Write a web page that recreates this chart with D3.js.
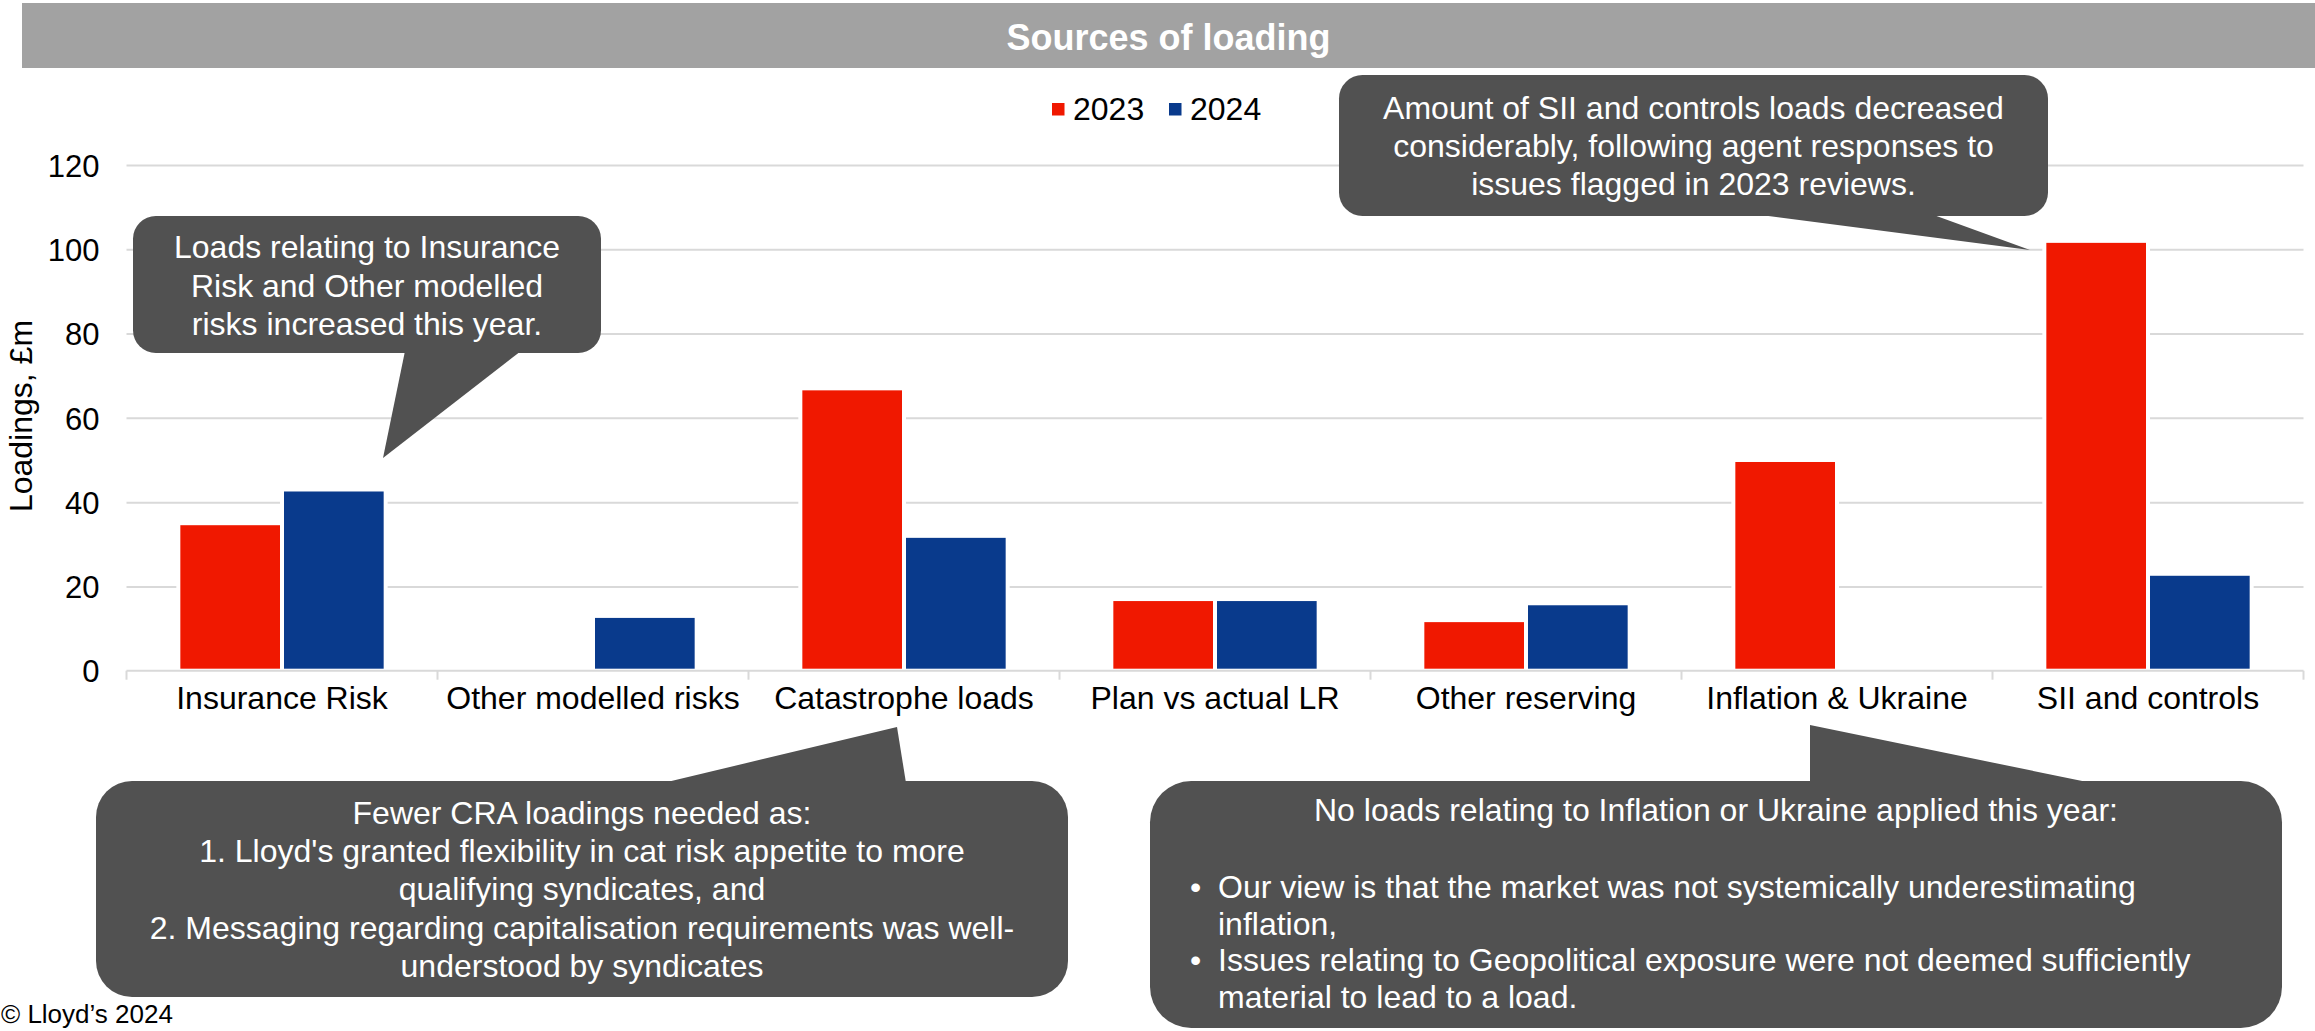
<!DOCTYPE html>
<html>
<head>
<meta charset="utf-8">
<script src="https://cdn.jsdelivr.net/npm/d3@7"></script>
<style>
  html, body { margin: 0; padding: 0; background: #ffffff; }
  svg { display: block; }
  text { font-family: "Liberation Sans", Arial, Helvetica, sans-serif; }
</style>
</head>
<body>
<svg id="chart" width="2315" height="1031"></svg>
<script>
// Loadings by source, £m
const categories = ["Insurance Risk", "Other modelled risks", "Catastrophe loads",
  "Plan vs actual LR", "Other reserving", "Inflation & Ukraine", "SII and controls"];
const seriesNames = ["2023", "2024"];
const values2023 = [35, 0.4, 67, 17, 12, 50, 102];
const values2024 = [43, 13, 32, 17, 16, 0, 23];
const yTicks = [0, 20, 40, 60, 80, 100, 120];

const seriesColors = { "2023": "#F01800", "2024": "#093A8C" };
const calloutFill = "#515151";
const gridColor = "#D9D9D9";
const fontFamily = '"Liberation Sans", Arial, Helvetica, sans-serif';

const svg = d3.select("#chart");
const W = 2315, H = 1031;

// Plot frame
const plot = { left: 126.5, right: 2303.5, top: 165, bottom: 670.7 };

const x = d3.scaleBand().domain(categories).range([plot.left, plot.right]).paddingInner(0).paddingOuter(0);
const xs = d3.scaleBand().domain(seriesNames).range([0, x.bandwidth()]).paddingInner(0).paddingOuter(0.5);
const y = d3.scaleLinear().domain([0, 120]).range([plot.bottom, plot.top]);

// Title banner
svg.append("rect").attr("x", 22).attr("y", 3).attr("width", W - 22).attr("height", 65).attr("fill", "#A2A2A2");
svg.append("text").attr("x", (22 + W) / 2).attr("y", 50)
  .attr("text-anchor", "middle").attr("fill", "#ffffff")
  .attr("font-size", 36).attr("font-weight", "bold")
  .text("Sources of loading");

// Horizontal gridlines
const grid = svg.append("g").attr("transform", `translate(${plot.left},0)`)
  .call(d3.axisLeft(y).tickValues(yTicks.filter(d => d > 0)).tickSize(-(plot.right - plot.left)).tickFormat(""));
grid.select(".domain").remove();
grid.selectAll(".tick line").attr("stroke", gridColor).attr("stroke-width", 2);

// Y tick labels
const yAxis = svg.append("g").attr("transform", `translate(${plot.left - 27},0)`)
  .call(d3.axisLeft(y).tickValues(yTicks).tickSize(0).tickPadding(0));
yAxis.select(".domain").remove();
yAxis.selectAll(".tick text").attr("font-size", 31).attr("font-family", fontFamily).attr("fill", "#000").attr("dy", "0.36em");

// Y axis title
svg.append("text").attr("transform", "translate(32,416) rotate(-90)")
  .attr("text-anchor", "middle").attr("font-size", 32).attr("fill", "#000")
  .text("Loadings, £m");

// Bars
const rows = categories.map((c, i) => ({ cat: c, vals: [
  { s: "2023", v: values2023[i] }, { s: "2024", v: values2024[i] }] }));

const groups = svg.append("g").selectAll("g").data(rows).join("g")
  .attr("transform", d => `translate(${x(d.cat)},0)`);
groups.selectAll("rect").data(d => d.vals).join("rect")
  .attr("x", d => xs(d.s))
  .attr("width", xs.bandwidth())
  .attr("y", d => y(d.v))
  .attr("height", d => y(0) - y(d.v))
  .attr("fill", d => seriesColors[d.s])
  .attr("stroke", "#ffffff")
  .attr("stroke-width", 4);

// Category axis
const xAxis = svg.append("g").attr("transform", `translate(0,${plot.bottom})`)
  .call(d3.axisBottom(x).tickSize(0).tickPadding(38));
xAxis.select(".domain").remove();
xAxis.selectAll(".tick text").attr("font-size", 32).attr("font-family", fontFamily).attr("fill", "#000").attr("dy", "0");
svg.append("line").attr("x1", plot.left).attr("x2", plot.right)
  .attr("y1", y(0)).attr("y2", y(0)).attr("stroke", gridColor).attr("stroke-width", 2);
const boundaries = categories.map(c => x(c)).concat([x.range()[1]]);
svg.append("g").selectAll("line").data(boundaries).join("line")
  .attr("x1", d => d).attr("x2", d => d)
  .attr("y1", y(0)).attr("y2", y(0) + 9)
  .attr("stroke", gridColor).attr("stroke-width", 2);

// Legend
const legend = svg.append("g").attr("transform", "translate(1052,0)");
const legendItems = legend.selectAll("g").data(seriesNames).join("g")
  .attr("transform", (d, i) => `translate(${i * 117},0)`);
legendItems.append("rect").attr("x", 0).attr("y", 103).attr("width", 12.5).attr("height", 12.5)
  .attr("fill", d => seriesColors[d]);
legendItems.append("text").attr("x", 21).attr("y", 120).attr("font-size", 32).attr("fill", "#000").text(d => d);

// Callouts
const callouts = [
  { box: [133, 216, 601, 353], pointer: [[405, 353], [383, 458], [521, 353]],
    first: 258, step: 38.6,
    lines: ["Loads relating to Insurance", "Risk and Other modelled", "risks increased this year."] },
  { box: [1339, 75, 2048, 216], pointer: [[1753, 216], [2030, 250], [1931, 216]],
    first: 119.3, step: 38,
    lines: ["Amount of SII and controls loads decreased", "considerably, following agent responses to", "issues flagged in 2023 reviews."] },
  { box: [96, 781, 1068, 997], pointer: [[663, 781], [897, 727], [906, 781]],
    first: 824, step: 38.2,
    lines: ["Fewer CRA loadings needed as:", "1. Lloyd's granted flexibility in cat risk appetite to more",
      "qualifying syndicates, and", "2. Messaging regarding capitalisation requirements was well-",
      "understood by syndicates"] },
  { box: [1150, 781, 2282, 1028], pointer: [[1810, 781], [1810, 725], [2092, 781]],
    first: 821, step: 38,
    lines: ["No loads relating to Inflation or Ukraine applied this year:"],
    bullets: { bulletX: 1190, textX: 1218, first: 898, step: 36.7,
      lines: [["Our view is that the market was not systemically underestimating", "inflation,"],
        ["Issues relating to Geopolitical exposure were not deemed sufficiently", "material to lead to a load."]] } }
];

const cg = svg.append("g");
callouts.forEach(c => {
  const [x0, y0, x1, y1] = c.box;
  const w = x1 - x0, h = y1 - y0;
  const r = Math.min(w, h) / 6;
  cg.append("rect").attr("x", x0).attr("y", y0).attr("width", w).attr("height", h)
    .attr("rx", r).attr("ry", r).attr("fill", calloutFill);
  // pointer wedge, base tucked slightly into the box
  const inward = c.pointer[0][1] >= y1 - 0.5 ? -2 : 2;
  const pts = c.pointer.map((p, i) => i === 1 ? p : [p[0], p[1] + inward]);
  cg.append("path").attr("d", d3.line()(pts) + "Z").attr("fill", calloutFill);

  const cx = (x0 + x1) / 2;
  const t = cg.append("text").attr("text-anchor", "middle").attr("fill", "#ffffff").attr("font-size", 32);
  c.lines.forEach((ln, i) => {
    t.append("tspan").attr("x", cx).attr("y", c.first + i * c.step).text(ln);
  });
  if (c.bullets) {
    let row = 0;
    c.bullets.lines.forEach(item => {
      cg.append("text").attr("x", c.bullets.bulletX).attr("y", c.bullets.first + row * c.bullets.step)
        .attr("fill", "#ffffff").attr("font-size", 32).text("•");
      item.forEach(ln => {
        cg.append("text").attr("x", c.bullets.textX).attr("y", c.bullets.first + row * c.bullets.step)
          .attr("fill", "#ffffff").attr("font-size", 32).text(ln);
        row++;
      });
    });
  }
});

// Footer
svg.append("text").attr("x", 1).attr("y", 1023).attr("font-size", 26).attr("fill", "#000")
  .text("© Lloyd’s 2024");
</script>
</body>
</html>
